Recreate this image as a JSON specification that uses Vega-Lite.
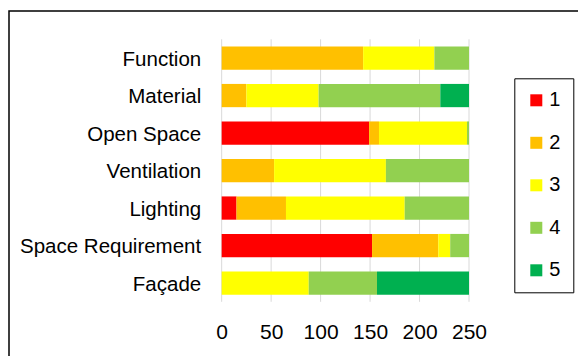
{
  "$schema": "https://vega.github.io/schema/vega-lite/v6.json",
  "width": 572,
  "height": 348,
  "padding": {"left": 9, "top": 11, "right": 0, "bottom": 0},
  "autosize": {"type": "none"},
  "config": {
    "view": {"stroke": "#000000", "strokeWidth": 1.5},
    "font": "Liberation Sans",
    "axis": {"labelFont": "Liberation Sans", "labelColor": "#000000"},
    "legend": {
      "labelFont": "Liberation Sans",
      "labelFontSize": 20,
      "labelColor": "#000000"
    }
  },
  "layer": [
    {
      "data": {"values": [{"v": 0}, {"v": 50}, {"v": 100}, {"v": 150}, {"v": 200}, {"v": 250}]},
      "mark": {"type": "rule", "color": "#d9d9d9", "strokeWidth": 1, "yOffset": -18.75, "y2Offset": 18.75},
      "encoding": {
        "x": {"field": "v", "type": "quantitative"},
        "y": {"datum": "Function", "type": "nominal"},
        "y2": {"datum": "Façade"}
      }
    },
    {
      "data": {
        "values": [
          {"category": "Function", "level": "2", "count": 143},
          {"category": "Function", "level": "3", "count": 72},
          {"category": "Function", "level": "4", "count": 35},
          {"category": "Material", "level": "2", "count": 25},
          {"category": "Material", "level": "3", "count": 73},
          {"category": "Material", "level": "4", "count": 123},
          {"category": "Material", "level": "5", "count": 29},
          {"category": "Open Space", "level": "1", "count": 149},
          {"category": "Open Space", "level": "2", "count": 10},
          {"category": "Open Space", "level": "3", "count": 89},
          {"category": "Open Space", "level": "4", "count": 2},
          {"category": "Ventilation", "level": "2", "count": 53},
          {"category": "Ventilation", "level": "3", "count": 113},
          {"category": "Ventilation", "level": "4", "count": 84},
          {"category": "Lighting", "level": "1", "count": 15},
          {"category": "Lighting", "level": "2", "count": 50},
          {"category": "Lighting", "level": "3", "count": 120},
          {"category": "Lighting", "level": "4", "count": 65},
          {"category": "Space Requirement", "level": "1", "count": 152},
          {"category": "Space Requirement", "level": "2", "count": 67},
          {"category": "Space Requirement", "level": "3", "count": 12},
          {"category": "Space Requirement", "level": "4", "count": 19},
          {"category": "Façade", "level": "3", "count": 88},
          {"category": "Façade", "level": "4", "count": 69},
          {"category": "Façade", "level": "5", "count": 93}
        ]
      },
      "mark": {"type": "bar"},
      "encoding": {
        "y": {
          "field": "category",
          "type": "nominal",
          "sort": ["Function", "Material", "Open Space", "Ventilation", "Lighting", "Space Requirement", "Façade"],
          "scale": {
            "domain": ["Function", "Material", "Open Space", "Ventilation", "Lighting", "Space Requirement", "Façade"],
            "range": [28.3, 290.8],
            "paddingInner": 0.38,
            "paddingOuter": 0.19
          },
          "axis": {
            "title": null,
            "domain": false,
            "ticks": false,
            "tickSize": 0,
            "labelPadding": 0,
            "labelFontSize": 20.5,
            "labelLimit": 300,
            "labelOffset": 1.5,
            "offset": -191.7
          }
        },
        "x": {
          "field": "count",
          "type": "quantitative",
          "stack": "zero",
          "scale": {"domain": [-214.96, 363.2], "nice": false, "zero": false},
          "axis": {
            "title": null,
            "values": [0, 50, 100, 150, 200, 250],
            "grid": false,
            "domain": false,
            "ticks": false,
            "tickSize": 0,
            "labelPadding": 0,
            "labelFontSize": 21,
            "labelFlush": false,
            "offset": -37.5
          }
        },
        "color": {
          "field": "level",
          "type": "nominal",
          "scale": {
            "domain": ["1", "2", "3", "4", "5"],
            "range": ["#ff0000", "#ffc000", "#ffff00", "#92d050", "#00b050"]
          },
          "legend": {
            "title": null,
            "orient": "none",
            "legendX": 505.3,
            "legendY": 67.3,
            "strokeColor": "#000000",
            "padding": 12,
            "symbolType": "square",
            "symbolSize": 144,
            "symbolStrokeWidth": 0,
            "symbolOpacity": 1,
            "labelOffset": 3,
            "rowPadding": 22.5
          }
        },
        "order": {"field": "level", "type": "ordinal"}
      }
    }
  ]
}
